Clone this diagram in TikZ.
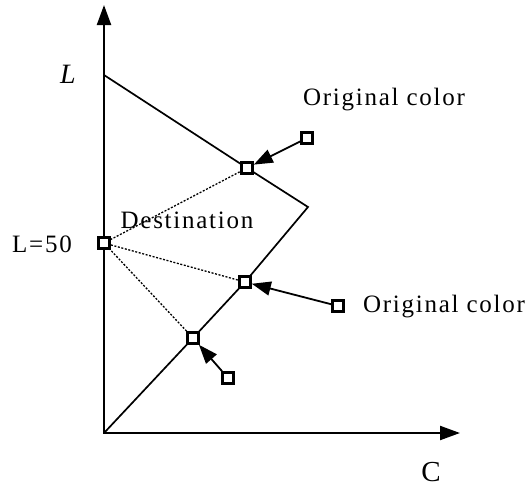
\documentclass[tikz,border=0pt]{standalone}
\usepackage{fontspec}
\setmainfont{Liberation Serif}
\newfontfamily\lblfont[LetterSpace=7]{Liberation Serif}
\usetikzlibrary{arrows.meta,positioning,backgrounds}

\begin{document}
\begin{tikzpicture}[x=1pt, y=-1pt,
		every node/.style={font=\lblfont\fontsize{25}{29}\selectfont},
		pt/.style={draw, rectangle, fill=white, line width=2.6pt, minimum size=11pt, inner sep=0pt},
		axis/.style={line width=2.2pt, {Triangle[length=20pt,width=14pt]}-{Triangle[length=20pt,width=14pt]}},
		curve/.style={line width=1.7pt},
		proj/.style={line width=1.3pt, dash pattern=on 2pt off 1.6pt},
		move/.style={line width=1.8pt, -{Triangle[length=19pt,width=14pt]}}]
				\useasboundingbox (0,0) rectangle (529,488);
				\coordinate (origin) at (104,433);
				\coordinate (ytip) at (104,5);
				\coordinate (xtip) at (460,433);
				\coordinate (lmax) at (104,75);
				\coordinate (cusp) at (308,207);
				\node[pt] (dest) at (104,243) {};
				\node[pt] (mapA) at (247,168) {};
				\node[pt] (mapB) at (245,282) {};
				\node[pt] (mapC) at (193,338) {};
				\node[pt] (srcA) at (307,138) {};
				\node[pt] (srcB) at (338,306) {};
				\node[pt] (srcC) at (228,378) {};
				\node (lname) at (68,74) {\fontsize{28}{32}\selectfont\itshape L};
				\node (cname) at (431,472) {\fontsize{29}{33}\selectfont C};
				\node (lmid) at (42,244) {L=50};
				\node (destlbl) at (187,220) {Destination};
				\node (srcAlbl) at (384,100) {Original color};
				\node (srcBlbl) at (444,307) {Original color};
				\begin{scope}[on background layer]
				\draw[axis] (ytip) |- (xtip);
				\draw[curve] (lmax) -- (mapA.center) -- (cusp) -- (mapB.center) -- (mapC.center) -- (origin);
				\draw[proj] (dest.center) -- (mapA.center);
				\draw[proj] (dest.center) -- (mapB.center);
				\draw[proj] (dest.center) -- (mapC.center);
				\end{scope}
				\draw[move] (srcA) -- (mapA);
				\draw[move] (srcB) -- (mapB);
				\draw[move] (srcC) -- (mapC);
			\end{tikzpicture}
\end{document}
